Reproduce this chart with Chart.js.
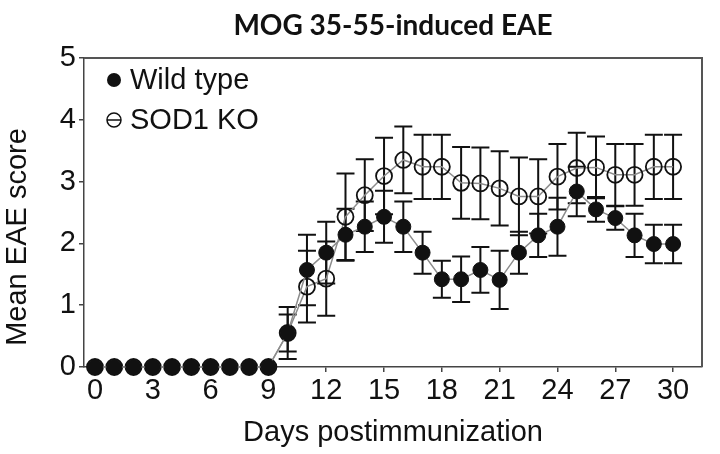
<!DOCTYPE html>
<html>
<head>
<meta charset="utf-8">
<script src="https://cdn.jsdelivr.net/npm/chart.js@4.4.1/dist/chart.umd.min.js"></script>
<style>
  html, body { margin: 0; padding: 0; background: #fff; }
  #wrap { width: 720px; height: 454px; }
</style>
</head>
<body>
<div id="wrap"><canvas id="eaeChart" width="720" height="454"></canvas></div>
<script>
// --- data ---
const days = [0,1,2,3,4,5,6,7,8,9,10,11,12,13,14,15,16,17,18,19,20,21,22,23,24,25,26,27,28,29,30];
const wildType    = [0,0,0,0,0,0,0,0,0,0,0.55,1.57,1.85,2.14,2.27,2.43,2.27,1.85,1.42,1.42,1.57,1.41,1.85,2.13,2.27,2.84,2.55,2.41,2.13,1.99,1.99];
const wildTypeErr = [0,0,0,0,0,0,0,0,0,0,0.30,0.57,0.50,0.42,0.41,0.42,0.41,0.34,0.30,0.37,0.37,0.47,0.34,0.35,0.47,0.40,0.20,0.19,0.35,0.31,0.31];
const sodKo       = [0,0,0,0,0,0,0,0,0,0,0.55,1.30,1.43,2.43,2.78,3.09,3.35,3.24,3.24,2.98,2.97,2.89,2.76,2.76,3.08,3.22,3.23,3.11,3.11,3.24,3.24];
const sodKoErr    = [0,0,0,0,0,0,0,0,0,0,0.42,0.58,0.60,0.70,0.58,0.62,0.54,0.52,0.52,0.58,0.58,0.60,0.63,0.60,0.53,0.57,0.50,0.50,0.50,0.52,0.52];
const xTicks = [0,3,6,9,12,15,18,21,24,27,30];
const yTicks = [0,1,2,3,4,5];
const seriesNames = ['Wild type', 'SOD1 KO'];

const AXIS_FONT = 'Liberation Sans, Arial, sans-serif';

// --- error bars, drawn behind the markers ---
const errorBars = {
  id: 'errorBars',
  beforeDatasetsDraw(chart) {
    const { ctx, scales: { x, y } } = chart;
    const errs = [wildTypeErr, sodKoErr];
    ctx.save();
    ctx.strokeStyle = '#111';
    ctx.lineWidth = 2;
    chart.data.datasets.forEach((ds, d) => {
      ds.data.forEach((pt, i) => {
        const e = errs[d][i];
        if (!e) return;
        const px = x.getPixelForValue(pt.x);
        const top = y.getPixelForValue(pt.y + e);
        const bot = y.getPixelForValue(pt.y - e);
        ctx.beginPath();
        ctx.moveTo(px, top); ctx.lineTo(px, bot);
        ctx.moveTo(px - 9, top); ctx.lineTo(px + 9, top);
        ctx.moveTo(px - 9, bot); ctx.lineTo(px + 9, bot);
        ctx.stroke();
      });
    });
    ctx.restore();
  }
};

// --- title, axis titles, frame and in-plot legend ---
const decorations = {
  id: 'decorations',
  afterDraw(chart) {
    const { ctx, chartArea: a } = chart;
    const cx = (a.left + a.right) / 2;
    ctx.save();
    // top + right frame
    ctx.strokeStyle = '#555';
    ctx.lineWidth = 2;
    ctx.beginPath();
    ctx.moveTo(a.left, a.top); ctx.lineTo(a.right, a.top); ctx.lineTo(a.right, a.bottom);
    ctx.stroke();

    ctx.fillStyle = '#111';
    ctx.textAlign = 'center';
    ctx.textBaseline = 'middle';
    ctx.font = 'bold 28px Lato, "Open Sans", sans-serif';
    ctx.fillText('MOG 35-55-induced EAE', cx, 26);

    ctx.font = '29px ' + AXIS_FONT;
    ctx.fillText('Days postimmunization', cx, 433);

    ctx.save();
    ctx.translate(18, 237);
    ctx.rotate(-Math.PI / 2);
    ctx.fillText('Mean EAE score', 0, 0);
    ctx.restore();

    // legend
    ctx.textAlign = 'left';
    ctx.font = '29px ' + AXIS_FONT;
    ctx.beginPath();
    ctx.arc(a.left + 30, 80, 7, 0, Math.PI * 2);
    ctx.fill();
    ctx.fillText(seriesNames[0], a.left + 46, 81);

    ctx.lineWidth = 1.5;
    ctx.strokeStyle = '#111';
    ctx.beginPath();
    ctx.arc(a.left + 30, 120, 7, 0, Math.PI * 2);
    ctx.moveTo(a.left + 23, 120); ctx.lineTo(a.left + 37, 120);
    ctx.stroke();
    ctx.fillText(seriesNames[1], a.left + 46, 121);
    ctx.restore();
  }
};

new Chart(document.getElementById('eaeChart'), {
  type: 'line',
  data: {
    datasets: [
      {
        label: seriesNames[0],
        data: days.map((d, i) => ({ x: d, y: wildType[i] })),
        borderColor: '#8c8c8c',
        borderWidth: 1.5,
        pointRadius: 7.5,
        pointBackgroundColor: '#111',
        pointBorderColor: '#111',
        pointBorderWidth: 1,
        clip: false
      },
      {
        label: seriesNames[1],
        data: days.map((d, i) => ({ x: d, y: sodKo[i] })),
        borderColor: '#8c8c8c',
        borderWidth: 1.5,
        pointRadius: 8,
        pointBackgroundColor: 'rgba(0,0,0,0)',
        pointBorderColor: '#111',
        pointBorderWidth: 1.8,
        clip: false
      }
    ]
  },
  options: {
    responsive: false,
    animation: false,
    devicePixelRatio: 1,
    layout: { padding: { top: 58, right: 18, left: 0, bottom: 0 } },
    plugins: { legend: { display: false }, title: { display: false }, tooltip: { enabled: false } },
    scales: {
      x: {
        type: 'linear',
        min: -0.57,
        max: 31.5,
        afterBuildTicks: s => { s.ticks = xTicks.map(v => ({ value: v })); },
        afterFit: s => { s.height = 87; },
        grid: { drawOnChartArea: false, tickLength: 5, color: '#444', lineWidth: 1.5 },
        border: { color: '#444', width: 1.5 },
        ticks: { padding: 2, color: '#111', maxRotation: 0, font: { family: AXIS_FONT, size: 29 } }
      },
      y: {
        min: 0,
        max: 5,
        afterBuildTicks: s => { s.ticks = yTicks.map(v => ({ value: v })); },
        afterFit: s => { s.width = 84; },
        grid: { drawOnChartArea: false, tickLength: 5, color: '#444', lineWidth: 1.5 },
        border: { color: '#444', width: 1.5 },
        ticks: { padding: 3, color: '#111', font: { family: AXIS_FONT, size: 29 } }
      }
    }
  },
  plugins: [errorBars, decorations]
});
</script>
</body>
</html>
